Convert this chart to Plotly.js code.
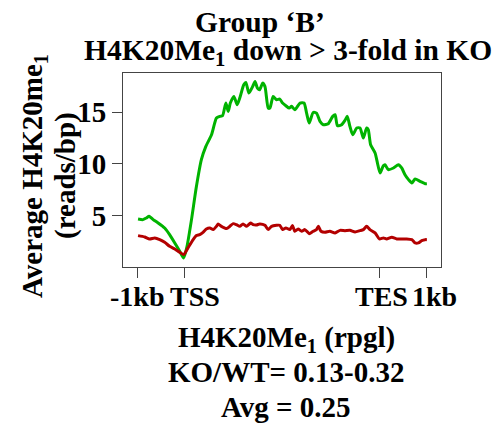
<!DOCTYPE html>
<html>
<head>
<meta charset="utf-8">
<script src="https://cdn.plot.ly/plotly-3.0.1.min.js"></script>
<style>
  html, body { margin: 0; padding: 0; background: #fff; }
  #chart { width: 502px; height: 427px; }
</style>
</head>
<body>
<div id="chart"></div>
<script>
// Metagene positions: -1kb = 0, TSS = 20, TES = 103, +1kb = 123
const tickPositions = [0, 20, 103, 123];
const tickLabels = ['-1kb', 'TSS', 'TES', '1kb'];
const yTickValues = [5, 10, 15];

// WT (green) profile
const wtPos = [0.3, 2.4, 3.8, 5.0, 6.7, 8.8, 11.6, 13.7, 15.9, 18.0, 19.7, 21.1, 23.0, 25.1, 27.2, 29.1, 31.5, 33.6, 35.0, 36.2, 37.6, 38.6, 39.5, 41.0, 42.4, 43.5, 45.2, 46.1, 47.4, 49.0, 50.0, 51.0, 52.0, 53.2, 54.2, 55.6, 56.3, 57.7, 59.1, 60.5, 61.7, 63.1, 64.5, 65.5, 66.9, 69.1, 70.8, 71.9, 73.0, 74.7, 76.1, 77.6, 79.0, 81.1, 83.0, 84.0, 85.0, 86.8, 88.2, 89.2, 90.3, 91.5, 93.2, 94.6, 96.0, 97.4, 98.1, 99.1, 101.0, 102.0, 103.1, 104.5, 105.2, 106.6, 108.8, 110.9, 112.3, 113.7, 115.2, 116.6, 118.0, 120.1, 122.3, 123.0];
const wtSignal = [4.65, 4.59, 4.75, 4.91, 4.59, 4.27, 3.78, 3.14, 2.33, 1.52, 0.88, 2.01, 4.59, 7.81, 10.39, 11.68, 12.81, 14.43, 14.59, 14.65, 15.88, 15.07, 15.88, 16.52, 15.72, 16.36, 17.65, 17.88, 16.85, 17.49, 17.97, 17.33, 17.17, 17.81, 17.49, 15.39, 15.39, 16.52, 16.20, 16.26, 15.88, 15.62, 15.39, 15.56, 15.23, 15.88, 15.88, 14.91, 13.94, 14.97, 14.91, 14.10, 13.78, 13.88, 14.59, 14.75, 13.68, 13.78, 14.20, 14.59, 13.62, 12.81, 13.46, 13.46, 12.49, 13.46, 13.30, 11.84, 11.04, 10.07, 9.10, 9.81, 9.91, 9.43, 9.59, 9.91, 9.59, 8.94, 8.46, 8.14, 8.52, 8.30, 8.07, 8.07];

// KO (red) profile
const koPos = [0.3, 3.1, 5.2, 7.4, 9.5, 11.6, 13.7, 15.9, 18.0, 19.7, 21.5, 23.7, 25.1, 26.5, 27.9, 29.3, 30.8, 32.2, 33.6, 34.3, 35.7, 37.9, 39.3, 40.7, 42.1, 43.5, 44.9, 46.4, 48.1, 49.2, 50.6, 52.0, 54.2, 55.6, 57.0, 59.1, 60.5, 61.7, 63.1, 64.8, 65.9, 66.9, 68.3, 69.8, 71.2, 73.0, 74.7, 76.1, 76.9, 78.0, 79.7, 81.8, 84.0, 86.1, 88.2, 90.3, 92.5, 94.6, 96.0, 97.4, 98.8, 101.0, 102.8, 104.5, 105.9, 108.1, 110.2, 112.3, 114.4, 116.6, 118.0, 119.4, 120.8, 122.3, 123.0];
const koSignal = [3.04, 2.91, 2.72, 2.81, 2.65, 2.39, 2.01, 1.75, 1.43, 1.20, 1.85, 2.65, 3.04, 3.14, 3.36, 3.68, 3.78, 3.62, 3.94, 4.17, 3.94, 3.72, 3.94, 4.20, 4.10, 3.94, 4.17, 3.94, 4.26, 4.10, 4.07, 4.17, 4.04, 3.62, 3.94, 4.04, 4.04, 3.62, 3.78, 3.62, 4.01, 3.46, 3.68, 3.46, 3.62, 3.23, 3.46, 3.62, 3.94, 3.46, 3.36, 3.46, 3.30, 3.55, 3.52, 3.55, 3.39, 3.52, 3.62, 3.94, 3.62, 3.30, 2.72, 2.81, 2.72, 2.88, 2.72, 2.72, 2.72, 2.65, 2.33, 2.33, 2.55, 2.65, 2.65];

const FONT = 'Liberation Serif';
const W = 502, H = 427;
const M = {l: 123, r: 61, t: 73, b: 160};
const PW = W - M.l - M.r, PH = H - M.t - M.b;
const px = x => (x - M.l) / PW;
const py = y => (H - M.b - y) / PH;

function label(text, x, y, size, angle) {
  return {
    text: text, xref: 'paper', yref: 'paper', x: px(x), y: py(y),
    xanchor: 'center', yanchor: 'middle', showarrow: false,
    textangle: angle || 0,
    font: {family: FONT, size: size, color: '#000', weight: 'bold'}
  };
}

const traces = [
  {x: wtPos, y: wtSignal, type: 'scatter', mode: 'lines', name: 'WT',
   line: {color: '#00b300', width: 3, shape: 'spline', smoothing: 0.6}},
  {x: koPos, y: koSignal, type: 'scatter', mode: 'lines', name: 'KO',
   line: {color: '#b30000', width: 3, shape: 'spline', smoothing: 0.6}}
];

const tf = {family: FONT, size: 29, color: '#000', weight: 'bold'};

// x tick labels drawn as annotations anchored to the axis tick values (with small R-like offsets)
const xLabelShift = [0, 11, 2, 8];
const xTickAnns = tickLabels.map((t, i) => ({
  text: t, xref: 'x', yref: 'paper', x: tickPositions[i], y: py(296.5),
  xshift: xLabelShift[i], xanchor: 'center', yanchor: 'middle', showarrow: false,
  font: {family: FONT, size: 28, color: '#000', weight: 'bold'}
}));

const layout = {
  width: W, height: H,
  margin: M,
  paper_bgcolor: '#fff', plot_bgcolor: '#fff',
  showlegend: false,
  font: tf,
  xaxis: {
    range: [-6.1, 129], tickmode: 'array', tickvals: tickPositions,
    showticklabels: false, automargin: false,
    ticks: 'outside', ticklen: 10, tickwidth: 1, tickcolor: '#444',
    showline: true, mirror: true, linecolor: '#444', linewidth: 1,
    showgrid: false, zeroline: false
  },
  yaxis: {
    range: [0, 18.79], tickmode: 'array', tickvals: yTickValues,
    tickangle: 0, automargin: false,
    ticks: 'outside', ticklen: 10, tickwidth: 1, tickcolor: '#444',
    showline: true, mirror: true, linecolor: '#444', linewidth: 1,
    showgrid: false, zeroline: false,
    tickfont: tf
  },
  annotations: xTickAnns.concat([
    label('Group \u2018B\u2019', 260, 22, 29.5),
    label('H4K20Me<sub>1</sub> down > 3-fold in KO', 288, 52, 29.5),
    label('Average H4K20me<sub>1</sub>', 34, 176, 29, -90),
    label('(reads/bp)', 65, 176, 29, -90),
    label('H4K20Me<sub>1</sub> (rpgl)', 286, 338.5, 29),
    label('KO/WT= 0.13-0.32', 286, 372, 29),
    label('Avg = 0.25', 286, 407, 29)
  ])
};

Plotly.newPlot('chart', traces, layout, {displayModeBar: false, staticPlot: true});
</script>
</body>
</html>
